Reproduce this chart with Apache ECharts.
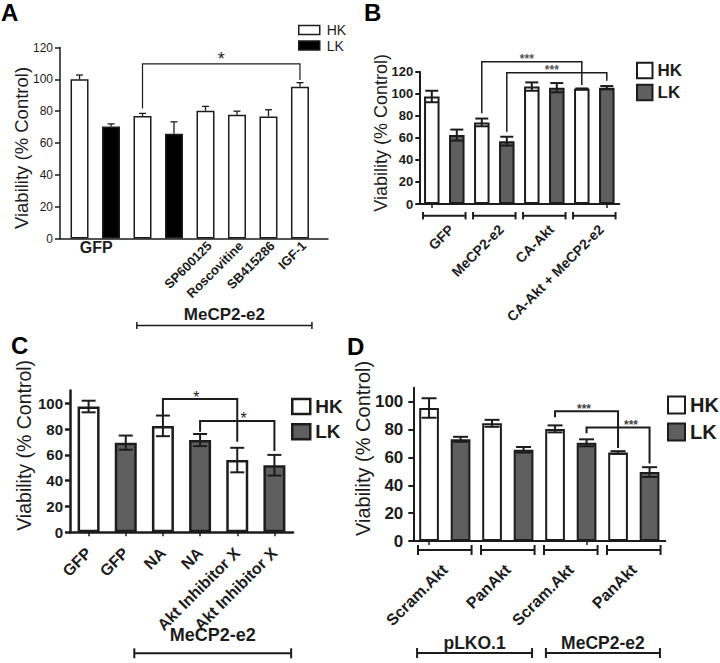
<!DOCTYPE html>
<html><head><meta charset="utf-8">
<script src="https://cdn.jsdelivr.net/npm/echarts@6/dist/echarts.min.js"></script>
<style>html,body{margin:0;padding:0;background:#fff}#c{width:720px;height:663px}</style>
</head><body><div id="c"></div>
<script>
// ---------------- data ----------------
// Panel A
const aTickLabels = ['', '', '', '', 'SP600125', 'Roscovitine', 'SB415286', 'IGF-1'];
const aHK = [100, null, 77, null, 80.3, 77.8, 76.6, 95.4];
const aLK = [null, 70.4, null, 65.8, null, null, null, null];
const aErr = [2.7, 1.6, 1.6, 7.5, 2.7, 2.2, 4.3, 2.5];
const aGroupLabels = [['GFP', 0, 1]];
const aSpans = [['MeCP2-e2', 1.82, 7.38]];
const aSig = [[2, 7, 81.7, 109.7, 99.6, '*']];
const aYTicks = [0, 20, 40, 60, 80, 100, 120];
// Panel B
const bCats = ['GFP HK', 'GFP LK', 'MeCP2-e2 HK', 'MeCP2-e2 LK', 'CA-Akt HK', 'CA-Akt LK', 'CA-Akt + MeCP2-e2 HK', 'CA-Akt + MeCP2-e2 LK'];
const bHK = [97.5, null, 74, null, 106.5, null, 104.5, null];
const bLK = [null, 62.5, null, 57, null, 105.5, null, 105.5];
const bErr = [5.2, 5, 3.5, 4, 3.8, 4.2, 0.3, 1.5];
const bGroups = [['GFP', -0.35, 1.35], ['MeCP2-e2', 1.65, 3.35], ['CA-Akt', 3.65, 5.35], ['CA-Akt + MeCP2-e2', 5.65, 7.35]];
const bSig = [[2, 6, 82.3, 129, 108, '***', 3.8], [3, 7, 65.6, 119, 111.8, '***', 4.8]];
const bYTicks = [0, 20, 40, 60, 80, 100, 120];
// Panel C
const cCats = ['GFP', 'GFP', 'NA', 'NA', 'Akt Inhibitor X', 'Akt Inhibitor X'];
const cHK = [97.5, null, 82.5, null, 56, null];
const cLK = [null, 69.5, null, 71.5, null, 52];
const cErr = [4.5, 5.5, 8, 4.7, 9.5, 8];
const cSpans = [['MeCP2-e2', 1.23, 5.45]];
const cSig = [[2, 4, 91, 103.3, 70.2, '*', 2.9], [3, 5, 78, 86.3, 63, '*', 4.17]];
const cYTicks = [0, 20, 40, 60, 80, 100];
// Panel D
const dCats = ['pLKO.1 Scram HK', 'pLKO.1 Scram LK', 'pLKO.1 Pan HK', 'pLKO.1 Pan LK', 'MeCP2 Scram HK', 'MeCP2 Scram LK', 'MeCP2 Pan HK', 'MeCP2 Pan LK'];
const dHK = [95.5, null, 84.5, null, 80.5, null, 63.5, null];
const dLK = [null, 73, null, 65.5, null, 70.5, null, 49.5];
const dErr = [7, 1.8, 2.5, 2, 2.5, 2.5, 1, 3.5];
const dGroups = [['Scram.Akt', -0.35, 1.35], ['PanAkt', 1.65, 3.35], ['Scram.Akt', 3.65, 5.35], ['PanAkt', 5.65, 7.35]];
const dSpans = [['pLKO.1', -0.38, 3.27], ['MeCP2-e2', 3.71, 7.33]];
const dSig = [[4, 6, 88.9, 93.2, 66.7, '***', 4.92], [5, 7, 77.4, 81.5, 55.7, '***', 6.41]];
const dYTicks = [0, 20, 40, 60, 80, 100];

// ---------------- style ----------------
const FONT = '"Liberation Sans", Arial, sans-serif';
const INK = '#1c1c1c';
const GRAY = '#5f5f5f';
const YNAME = 'Viability (% Control)';

function errData(hk, lk, err) { return hk.map((v, i) => [i, v != null ? v : lk[i], err[i]]); }
function errRender(capW, lw, upOnly) {
  return function (params, api) {
    const i = api.value(0), v = api.value(1), e = api.value(2);
    const t = api.coord([i, v + e]);
    const b = api.coord([i, upOnly ? v : v - e]);
    const x = t[0];
    const st = { stroke: INK, lineWidth: lw };
    const ch = [
      { type: 'line', shape: { x1: x, y1: t[1], x2: x, y2: b[1] }, style: st },
      { type: 'line', shape: { x1: x - capW / 2, y1: t[1], x2: x + capW / 2, y2: t[1] }, style: st }
    ];
    if (!upOnly) ch.push({ type: 'line', shape: { x1: x - capW / 2, y1: b[1], x2: x + capW / 2, y2: b[1] }, style: st });
    return { type: 'group', children: ch };
  };
}
function sigRender(list, o) {
  return function (params, api) {
    const s = list[params.dataIndex];
    const p1 = api.coord([s[0], s[2]]), p2 = api.coord([s[0], s[3]]), p3 = api.coord([s[1], s[3]]), p4 = api.coord([s[1], s[4]]);
    const t = api.coord([s[6] != null ? s[6] : (s[0] + s[1]) / 2, s[3]]);
    return { type: 'group', children: [
      { type: 'polyline', shape: { points: [p1, p2, p3, p4] }, style: { stroke: INK, lineWidth: o.lw, fill: null } },
      { type: 'text', x: t[0], y: t[1] - o.lift, style: { text: s[5], fill: o.color, font: o.font, align: 'center', verticalAlign: 'middle' } }
    ] };
  };
}
function spanRender(list, o) {
  return function (params, api) {
    const it = list[params.dataIndex];
    const a = api.coord([it[1], 0]), b = api.coord([it[2], 0]);
    const y0 = a[1];
    const ch = [];
    if (o.line) {
      const y = y0 + o.dy;
      const st = { stroke: INK, lineWidth: o.lw };
      ch.push({ type: 'line', shape: { x1: a[0], y1: y, x2: b[0], y2: y }, style: st });
      ch.push({ type: 'line', shape: { x1: a[0], y1: y - o.tk, x2: a[0], y2: y + o.tk }, style: st });
      ch.push({ type: 'line', shape: { x1: b[0], y1: y - o.tk, x2: b[0], y2: y + o.tk }, style: st });
    }
    const cx = (a[0] + b[0]) / 2;
    if (o.rot) {
      ch.push({ type: 'text', x: cx + o.lx, y: y0 + o.ly, rotation: Math.PI / 4, style: { text: it[0], fill: INK, font: o.font, align: 'right', verticalAlign: 'middle' } });
    } else {
      ch.push({ type: 'text', x: cx + o.lx, y: y0 + o.ly, style: { text: it[0], fill: INK, font: o.font, align: 'center', verticalAlign: 'middle' } });
    }
    return { type: 'group', children: ch };
  };
}
function rotLabelRender(labels, o) {
  return function (params, api) {
    const i = api.value(0);
    const p = api.coord([i, 0]);
    return { type: 'text', x: p[0] + o.lx, y: p[1] + o.ly, rotation: Math.PI / 4,
      style: { text: labels[i], fill: INK, font: o.font, align: 'right', verticalAlign: 'middle' } };
  };
}
function yAxis(g, o) {
  return {
    type: 'value', gridIndex: g, min: 0, max: o.max, interval: 20,
    axisLine: { show: true, onZero: false, lineStyle: { color: INK, width: o.lw } },
    axisTick: { show: true, length: o.tick, lineStyle: { color: INK, width: o.lw }, customValues: o.ticks },
    axisLabel: { margin: o.margin, fontSize: o.fs, fontWeight: o.fw, color: INK, fontFamily: FONT, customValues: o.ticks,
      showMaxLabel: true, showMinLabel: true },
    splitLine: { show: false },
    name: YNAME, nameLocation: 'middle', nameGap: o.nameGap, nameMoveOverlap: false,
    nameTextStyle: { fontSize: o.nfs, color: INK, fontFamily: FONT, padding: o.npad }
  };
}
function catAxis(g, cats, lw, label) {
  return {
    type: 'category', gridIndex: g, data: cats, boundaryGap: true,
    axisLine: { show: true, onZero: false, lineStyle: { color: INK, width: lw } },
    axisTick: { show: true, alignWithLabel: true, length: 4, lineStyle: { color: INK, width: 1.5 } },
    axisLabel: label || { show: false },
    splitLine: { show: false }
  };
}
function hiddenX(g, n) { return { type: 'value', gridIndex: g, min: -0.5, max: n - 0.5, show: false }; }
function bar(name, xi, yi, data, w, color, bw) {
  return { type: 'bar', name: name, xAxisIndex: xi, yAxisIndex: yi, data: data, barWidth: w, barGap: '-100%',
    itemStyle: { color: color, borderColor: INK, borderWidth: bw }, silent: true };
}
function custom(xi, yi, data, render, z) {
  return { type: 'custom', xAxisIndex: xi, yAxisIndex: yi, data: data, renderItem: render, clip: false, silent: true, z: z || 3 };
}
function legend(o) {
  return {
    orient: 'vertical', left: o.left, top: o.top, padding: 0, icon: 'rect', selectedMode: false,
    itemWidth: o.iw, itemHeight: o.ih, itemGap: o.gap,
    textStyle: { fontSize: o.fs, fontWeight: o.fw, lineHeight: o.lh, color: INK, fontFamily: FONT, padding: [0, 0, 0, o.tp || 0] },
    data: [
      { name: 'HK', itemStyle: { color: '#fff', borderColor: INK, borderWidth: o.bw } },
      { name: 'LK', itemStyle: { color: o.lk, borderColor: INK, borderWidth: o.bw } }
    ]
  };
}
function letter(t, l, tp) {
  return { text: t, left: l, top: tp, padding: 0, textStyle: { fontSize: 24, lineHeight: 24, fontWeight: 'bold', color: '#000', fontFamily: FONT } };
}

const pairs = (arr) => arr.map((v, i) => (v == null ? null : [i, v])).filter(Boolean);

const option = {
  animation: false,
  textStyle: { fontFamily: FONT },
  title: [letter('A', 1, 0), letter('B', 364, 0), letter('C', 11, 333), letter('D', 347, 334)],
  legend: [
    legend({ left: 298, top: 23, iw: 21, ih: 9, gap: 1.5, fs: 14, fw: 'normal', lh: 13.5, bw: 1.5, lk: '#000', tp: 2 }),
    legend({ left: 636, top: 61.7, iw: 15.5, ih: 15.5, gap: 4.6, fs: 17, fw: 'bold', lh: 17, bw: 2, lk: GRAY }),
    legend({ left: 291, top: 397, iw: 18, ih: 15, gap: 6.3, fs: 19, fw: 'bold', lh: 17, bw: 2.5, lk: GRAY }),
    legend({ left: 667, top: 395, iw: 17, ih: 17, gap: 7, fs: 20, fw: 'bold', lh: 19, bw: 2, lk: GRAY })
  ],
  grid: [
    { left: 60, top: 47.5, width: 268, height: 191, outerBoundsMode: 'none' },
    { left: 419.3, top: 71.7, width: 200, height: 132.3, outerBoundsMode: 'none' },
    { left: 70, top: 390.4, width: 223, height: 141.9, outerBoundsMode: 'none' },
    { left: 413.3, top: 387.8, width: 252, height: 153.2, outerBoundsMode: 'none' }
  ],
  xAxis: [
    { type: 'value', gridIndex: 0, min: -0.62, max: 7.89,
      axisLine: { show: true, onZero: false, lineStyle: { color: INK, width: 1.5 } },
      axisTick: { show: false }, axisLabel: { show: false }, splitLine: { show: false } },
    catAxis(1, bCats, 2),
    hiddenX(1, bCats.length),
    catAxis(2, cCats, 2.5, { show: true, interval: 0, rotate: 45, margin: 18, fontSize: 16, fontWeight: 'bold', color: INK, fontFamily: FONT }),
    hiddenX(2, cCats.length),
    catAxis(3, dCats, 2),
    hiddenX(3, dCats.length)
  ],
  yAxis: [
    yAxis(0, { max: 120, ticks: aYTicks, lw: 1.5, tick: 5, margin: 7, fs: 12, fw: 'normal', nameGap: 29, nfs: 18.5, npad: [0, 10, 0, 0] }),
    yAxis(1, { max: 120, ticks: bYTicks, lw: 2, tick: 4, margin: 6, fs: 13, fw: 'bold', nameGap: 29, nfs: 18, npad: [0, 0, 0, 10] }),
    yAxis(2, { max: 110, ticks: cYTicks, lw: 2.5, tick: 5, margin: 7, fs: 15, fw: 'bold', nameGap: 36, nfs: 19.5, npad: [0, 0, 0, 32] }),
    yAxis(3, { max: 110, ticks: dYTicks, lw: 2, tick: 5, margin: 10, fs: 17, fw: 'bold', nameGap: 40, nfs: 20, npad: [0, 0, 0, 32] })
  ],
  series: [
    // A
    bar('HK', 0, 0, pairs(aHK), 18, '#fff', 1.5),
    bar('LK', 0, 0, pairs(aLK), 18, '#000', 1.5),
    custom(0, 0, errData(aHK, aLK, aErr), errRender(7, 1.3, true)),
    custom(0, 0, aSig.map(s => [s[0], s[3]]), sigRender(aSig, { lw: 1.2, font: '18px ' + FONT, color: INK, lift: 5 })),
    custom(0, 0, aTickLabels.map((t, i) => [i, 0]).filter(d => aTickLabels[d[0]]), rotLabelRender(aTickLabels, { lx: 4, ly: 5, font: 'bold 13px ' + FONT })),
    custom(0, 0, aGroupLabels.map(s => [s[1], 0]), spanRender(aGroupLabels, { line: false, lx: 1, ly: 9, font: 'bold 16px ' + FONT })),
    custom(0, 0, aSpans.map(s => [s[1], 0]), spanRender(aSpans, { line: true, dy: 87, tk: 3.5, lw: 1.5, lx: 0, ly: 76, font: 'bold 17px ' + FONT })),
    // B
    bar('HK', 1, 1, bHK, 15.5, '#fff', 2),
    bar('LK', 1, 1, bLK, 15.5, GRAY, 2),
    custom(1, 1, errData(bHK, bLK, bErr), errRender(13, 2, false)),
    custom(2, 1, bSig.map(s => [s[0], s[3]]), sigRender(bSig, { lw: 1.5, font: 'bold 12px ' + FONT, color: '#555', lift: 2.5 })),
    custom(2, 1, bGroups.map(s => [s[1], 0]), spanRender(bGroups, { line: true, rot: true, dy: 11.7, tk: 3.7, lw: 2, lx: 7, ly: 23, font: 'bold 14px ' + FONT })),
    // C
    bar('HK', 3, 2, cHK, 22, '#fff', 2.5),
    bar('LK', 3, 2, cLK, 22, GRAY, 2.5),
    custom(3, 2, errData(cHK, cLK, cErr), errRender(14, 2, false)),
    custom(4, 2, cSig.map(s => [s[0], s[3]]), sigRender(cSig, { lw: 2, font: '16px ' + FONT, color: INK, lift: 2 })),
    custom(4, 2, cSpans.map(s => [s[1], 0]), spanRender(cSpans, { line: true, dy: 121, tk: 5, lw: 2, lx: 0, ly: 103, font: 'bold 18px ' + FONT })),
    // D
    bar('HK', 5, 3, dHK, 19.7, '#fff', 2),
    bar('LK', 5, 3, dLK, 19.7, GRAY, 2),
    custom(5, 3, errData(dHK, dLK, dErr), errRender(15, 2, false)),
    custom(6, 3, dSig.map(s => [s[0], s[3]]), sigRender(dSig, { lw: 2, font: 'bold 12px ' + FONT, color: '#444', lift: 2.5 })),
    custom(6, 3, dGroups.map(s => [s[1], 0]), spanRender(dGroups, { line: true, rot: true, dy: 9, tk: 5, lw: 2, lx: 0, ly: 26, font: 'bold 16px ' + FONT })),
    custom(6, 3, dSpans.map(s => [s[1], 0]), spanRender(dSpans, { line: true, dy: 112, tk: 5, lw: 2, lx: 0, ly: 102, font: 'bold 17.5px ' + FONT }))
  ]
};
const chart = echarts.init(document.getElementById('c'), null, { renderer: 'svg', width: 720, height: 663 });
chart.setOption(option);
</script>
</body></html>
